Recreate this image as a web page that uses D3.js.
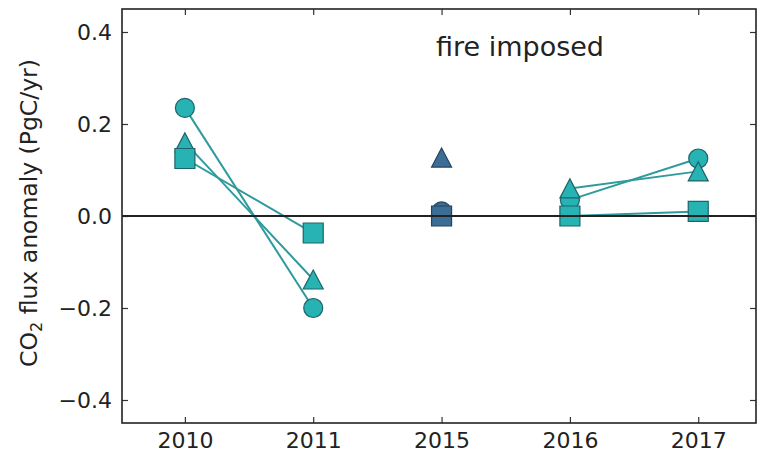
<!DOCTYPE html>
<html>
<head>
<meta charset="utf-8">
<script src="https://cdn.jsdelivr.net/npm/d3@7"></script>
<style>
  body { margin: 0; background: #fff; }
  text { font-family: "DejaVu Sans", sans-serif; fill: #222; }
</style>
</head>
<body>
<svg id="chart" width="757" height="454"></svg>
<script>
// years on the x axis (categorical)
var years = ["2010", "2011", "2015", "2016", "2017"];
// flux anomalies (PgC/yr), one array per marker series
var circleVals   = [0.235, -0.200, 0.010, 0.035, 0.125];
var triangleVals = [0.160, -0.138, 0.127, 0.060, 0.097];
var squareVals   = [0.125, -0.037, 0.000, 0.000, 0.010];
// pairs of year indices joined by a line
var linkedPairs = [[0, 1], [3, 4]];
var yTicks = [-0.4, -0.2, 0.0, 0.2, 0.4];

function drawChart() {
    var svg = d3.select("#chart");
    var margin = {left: 122, right: 756, top: 9, bottom: 423};

    var xScale = d3.scaleLinear().domain([-0.49, 4.45]).range([margin.left, margin.right]);
    var yScale = d3.scaleLinear().domain([-0.45, 0.45]).range([margin.bottom, margin.top]);

    var panel = svg.append("g");

    // axes with inward ticks on all four sides
    var xAxis = d3.axisBottom(xScale)
        .tickValues(d3.range(years.length))
        .tickFormat(function (d) { return years[d]; })
        .tickSizeInner(-6).tickSizeOuter(0).tickPadding(9);
    panel.append("g")
        .attr("transform", "translate(0," + margin.bottom + ")")
        .call(xAxis);

    panel.append("g")
        .attr("transform", "translate(0," + margin.top + ")")
        .call(d3.axisTop(xScale).tickValues(d3.range(years.length))
            .tickFormat("").tickSizeInner(-6).tickSizeOuter(0));

    var yAxis = d3.axisLeft(yScale)
        .tickValues(yTicks)
        .tickFormat(function (d) { return d3.format(".1f")(d).replace("-", "\u2212"); })
        .tickSizeInner(-6).tickSizeOuter(0).tickPadding(10);
    panel.append("g")
        .attr("transform", "translate(" + margin.left + ",0)")
        .call(yAxis);

    panel.append("g")
        .attr("transform", "translate(" + margin.right + ",0)")
        .call(d3.axisRight(yScale).tickValues(yTicks).tickFormat("")
            .tickSizeInner(-6).tickSizeOuter(0));

    panel.selectAll(".domain").remove();
    panel.selectAll(".tick line").attr("stroke", "#333").attr("stroke-width", 1.2);
    panel.selectAll(".tick text")
        .style("font-size", "22px")
        .style("font-family", "DejaVu Sans, sans-serif")
        .attr("fill", "#222");

    // frame
    panel.append("rect")
        .attr("x", margin.left).attr("y", margin.top)
        .attr("width", margin.right - margin.left).attr("height", margin.bottom - margin.top)
        .attr("fill", "none").attr("stroke", "#222").attr("stroke-width", 1.6);

    // y label with subscript
    var ylab = svg.append("text")
        .attr("transform", "translate(37,213) rotate(-90)")
        .attr("text-anchor", "middle")
        .style("font-size", "23.5px");
    ylab.append("tspan").text("CO");
    ylab.append("tspan").text("2").style("font-size", "16px").attr("dy", 5);
    ylab.append("tspan").text(" flux anomaly (PgC/yr)").attr("dy", -5);

    // panel title
    svg.append("text")
        .attr("x", 520).attr("y", 56)
        .attr("text-anchor", "middle")
        .style("font-size", "27px")
        .text("fire imposed");

    // marker shapes
    function markerPath(kind) {
        if (kind === "circle") return d3.symbol().type(d3.symbolCircle).size(Math.PI * 9.5 * 9.5)();
        if (kind === "square") return "M-10,-10H10V10H-10Z";
        return "M0,-9.5L10,9.5L-10,9.5Z";
    }

    var series = [
        {kind: "circle", values: circleVals},
        {kind: "triangle", values: triangleVals},
        {kind: "square", values: squareVals}
    ];

    var line = d3.line()
        .x(function (d) { return xScale(d.i); })
        .y(function (d) { return yScale(d.v); });

    series.forEach(function (s) {
        linkedPairs.forEach(function (p) {
            panel.append("path")
                .datum(p.map(function (i) { return {i: i, v: s.values[i]}; }))
                .attr("d", line)
                .attr("fill", "none")
                .attr("stroke", "#2f9a9e")
                .attr("stroke-width", 2);
        });
        panel.selectAll(null)
            .data(s.values)
            .enter()
            .append("path")
            .attr("d", markerPath(s.kind))
            .attr("transform", function (d, i) {
                return "translate(" + xScale(i) + "," + yScale(d) + ")";
            })
            .attr("fill", function (d, i) { return years[i] === "2015" ? "#3c6d94" : "#27b3b3"; })
            .attr("stroke", function (d, i) { return years[i] === "2015" ? "#24425c" : "#1e6468"; })
            .attr("stroke-width", 1.2);
    });

    // zero line
    panel.append("line")
        .attr("x1", margin.left).attr("x2", margin.right)
        .attr("y1", yScale(0)).attr("y2", yScale(0))
        .attr("stroke", "#222").attr("stroke-width", 1.8);
}

drawChart();
</script>
</body>
</html>
